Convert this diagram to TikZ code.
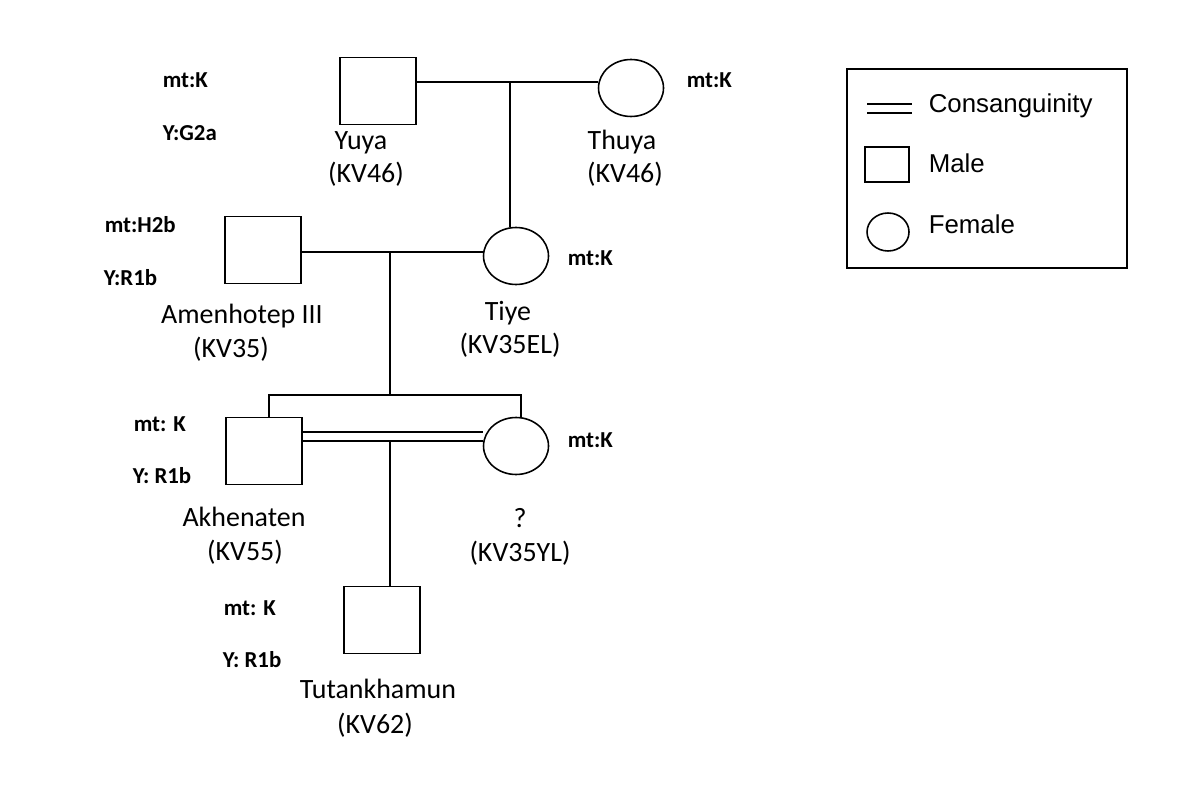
\documentclass[tikz,border=0pt]{standalone}
\usepackage{fontspec}
\setmainfont{Carlito}
\newfontfamily\legendfont{Liberation Sans}
\usetikzlibrary{shapes.geometric}

\begin{document}
\begin{tikzpicture}[x=0.02cm, y=-0.02cm, line width=0.9pt,
male/.style={rectangle, draw, minimum width=1.52cm, minimum height=1.34cm, inner sep=0},
female/.style={ellipse, draw, minimum width=1.3cm, minimum height=1.14cm, inner sep=0},
pname/.style={anchor=base, inner sep=0, font=\fontsize{15.9}{19}\selectfont},
hap/.style={anchor=base west, inner sep=0, font=\fontsize{13}{16}\selectfont\bfseries},
kin/.style={double, double distance=4.2pt},
legtext/.style={anchor=base west, inner sep=0, font=\legendfont\fontsize{14.7}{17}\selectfont},
]
\useasboundingbox (0,0) rectangle (1202,800);

% persons
\node[male] (yuya) at (378,91) {};
\node[female] (thuya) at (631,88) {};
\node[male] (amen) at (263,250) {};
\node[female] (tiye) at (516,256) {};
\node[male] (akhen) at (264,451) {};
\node[female] (yl) at (516,446) {};
\node[male] (tut) at (382,620) {};

% marriages and descent
\coordinate (m1) at (510,82);
\draw (yuya.east |- m1) -- (thuya.west |- m1);
\draw (m1) -- (tiye.north -| m1);
\coordinate (m2) at (390,252);
\draw (amen.east |- m2) -- (tiye.west |- m2);
\coordinate (sib) at (390,395);
\coordinate (s1) at (269,395);
\coordinate (s2) at (521,395);
\draw (m2) -- (sib);
\draw (akhen.north -| s1) -- (s1) -- (s2) -- (yl.north -| s2);
\coordinate (m3) at (390,436.5);
\draw[kin] (akhen.east |- m3) -- (yl.west |- m3);
\coordinate (m4) at (390,441);
\draw (m4) -- (tut.north -| m4);

% names
\node[pname] (yuyaN) at (361,150) {Yuya};
\node[pname] (yuyaK) at (366,183) {(KV46)};
\node[pname] (thuyaN) at (622,150) {Thuya};
\node[pname] (thuyaK) at (625,183) {(KV46)};
\node[pname] (amenN) at (242,323) {Amenhotep III};
\node[pname] (amenK) at (231,357) {(KV35)};
\node[pname] (tiyeN) at (508,320) {Tiye};
\node[pname] (tiyeK) at (510,353) {(KV35EL)};
\node[pname] (akhenN) at (244,526) {Akhenaten};
\node[pname] (akhenK) at (245,560) {(KV55)};
\node[pname] (ylN) at (520,527) {?};
\node[pname] (ylK) at (520,561) {(KV35YL)};
\node[pname] (tutN) at (378,698) {Tutankhamun};
\node[pname] (tutK) at (375,733) {(KV62)};

% haplogroups
\node[hap] (yuyaMt) at (162,88) {mt:K};
\node[hap] (yuyaY) at (162,141) {Y:G2a};
\node[hap] (thuyaMt) at (686,88) {mt:K};
\node[hap] (amenMt) at (104,233) {mt:H2b};
\node[hap] (amenY) at (103,285) {Y:R1b};
\node[hap] (tiyeMt) at (567,266) {mt:K};
\node[hap] (akhenMt) at (133,431) {mt: K};
\node[hap] (akhenY) at (132,483) {Y: R1b};
\node[hap] (ylMt) at (567,447) {mt:K};
\node[hap] (tutMt) at (223,615) {mt: K};
\node[hap] (tutY) at (222,667) {Y: R1b};

% legend
\node[draw, minimum width=5.6cm, minimum height=3.98cm] (legend) at (987,168.5) {};
\coordinate (c1) at (867,108.5);
\coordinate (c2) at (912,108.5);
\draw[kin] (c1) -- (c2);
\node[male, minimum width=0.88cm, minimum height=0.7cm] (keymale) at (887,164.5) {};
\node[female, minimum width=0.84cm, minimum height=0.76cm] (keyfemale) at (888,232) {};
\node[legtext] (keycons) at (928,113) {Consanguinity};
\node[legtext] (keym) at (928,173) {Male};
\node[legtext] (keyf) at (928,234) {Female};

\end{tikzpicture}
\end{document}
